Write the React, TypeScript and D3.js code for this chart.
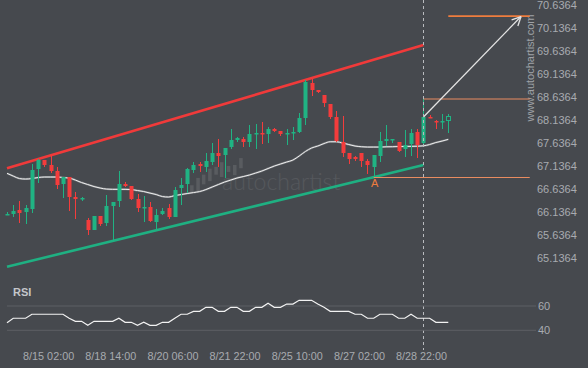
import * as d3 from "d3";

// 4H candles
const opens = [
  66.09, 66.1, 66.18, 66.14, 66.21, 67.07, 67.27, 67.16, 67.03, 66.75,
  66.9, 66.47, 66.43, 65.97, 65.75, 66.05, 65.9, 66.27, 66.38, 66.75,
  66.7, 66.42, 66.24, 66.25, 65.92, 66.1, 66.23, 66.03, 66.66, 66.75,
  67.05, 67.18, 67.12, 67.22, 67.42, 67.38, 67.55, 67.7, 67.72, 67.66,
  67.84, 67.85, 67.83, 67.94, 67.9, 67.84, 67.85, 67.88, 68.18, 68.94,
  68.79, 68.68, 68.48, 68.2, 67.66, 67.42, 67.33, 67.42, 67.25, 67.12,
  67.35, 67.68, 67.71, 67.66, 67.51, 67.62, 67.88, 67.64, 68.21, 68.12,
  68.11, 68.14,
];
const highs = [
  66.14, 66.29, 66.38, 66.29, 67.18, 67.29, 67.27, 67.35, 67.12, 66.9,
  66.9, 66.57, 66.47, 66.01, 66.05, 66.05, 66.51, 66.36, 67.03, 66.79,
  66.7, 66.53, 66.49, 66.36, 66.21, 66.23, 66.31, 66.68, 66.88, 67.09,
  67.22, 67.22, 67.42, 67.64, 67.72, 67.53, 67.94, 67.77, 67.77, 68.03,
  68.05, 68.09, 67.98, 67.96, 67.9, 67.94, 67.98, 68.29, 69.0, 69.02,
  68.79, 68.68, 68.48, 68.33, 68.22, 67.42, 67.35, 67.42, 67.29, 67.38,
  67.88, 68.03, 67.72, 67.66, 67.92, 67.94, 67.94, 68.59, 68.24, 68.14,
  68.27, 68.27,
];
const lows = [
  66.07, 66.03, 65.9, 65.88, 66.12, 66.77, 67.12, 66.99, 66.64, 66.44,
  66.16, 65.99, 66.38, 65.64, 65.75, 65.84, 65.84, 65.51, 66.25, 66.68,
  66.4, 66.14, 65.92, 65.92, 65.77, 66.07, 65.99, 66.03, 66.29, 66.55,
  66.99, 67.01, 67.01, 67.16, 67.12, 66.88, 67.51, 67.66, 67.55, 67.55,
  67.51, 67.62, 67.64, 67.88, 67.79, 67.59, 67.7, 67.85, 68.03, 68.66,
  68.72, 68.42, 68.16, 67.66, 67.33, 67.18, 67.25, 67.12, 66.96, 66.9,
  67.22, 67.57, 67.64, 67.44, 67.33, 67.35, 67.31, 67.57, 68.18, 67.94,
  67.94, 67.85,
];
const closes = [
  66.1, 66.16, 66.12, 66.23, 67.05, 67.27, 67.16, 67.03, 66.73, 66.9,
  66.47, 66.42, 66.44, 65.75, 66.05, 65.88, 66.27, 66.36, 66.75, 66.7,
  66.42, 66.23, 66.25, 65.94, 66.07, 66.16, 66.03, 66.62, 66.73, 67.07,
  67.16, 67.14, 67.25, 67.42, 67.35, 67.53, 67.7, 67.75, 67.66, 67.83,
  67.85, 67.84, 67.94, 67.9, 67.83, 67.85, 67.88, 68.18, 68.96, 68.79,
  68.74, 68.5, 68.2, 67.68, 67.42, 67.29, 67.29, 67.25, 67.16, 67.38,
  67.68, 67.72, 67.72, 67.46, 67.59, 67.85, 67.59, 68.2, 68.2, 68.11,
  68.12, 68.22,
];

// moving average (white line)
const maValues = [
  66.979, 66.92, 66.866, 66.855, 66.866, 66.888, 66.899, 66.899, 66.899, 66.888,
  66.877, 66.833, 66.779, 66.736, 66.692, 66.66, 66.638, 66.632, 66.632, 66.632,
  66.627, 66.606, 66.584, 66.551, 66.519, 66.476, 66.465, 66.497, 66.519, 66.541,
  66.562, 66.584, 66.627, 66.682, 66.736, 66.79, 66.833, 66.877, 66.909, 66.942,
  66.985, 67.029, 67.083, 67.137, 67.181, 67.224, 67.267, 67.354, 67.452, 67.528,
  67.571, 67.625, 67.664, 67.664, 67.636, 67.604, 67.571, 67.556, 67.549, 67.549,
  67.549, 67.554, 67.556, 67.56, 67.562, 67.564, 67.567, 67.575, 67.604, 67.647,
  67.679, 67.716,
];

const rsiValues = [
  46.3, 49.9, 49.9, 49.9, 53.2, 53.2, 53.2, 53.2, 53.2, 53.2,
  49.9, 47.4, 47.4, 44.1, 47.4, 47.4, 47.4, 47.4, 49.9, 46.6,
  46.6, 44.1, 46.6, 44.1, 44.1, 46.6, 46.6, 50.0, 53.2, 53.2,
  55.6, 55.6, 58.9, 58.9, 55.6, 55.6, 58.9, 58.9, 55.6, 55.6,
  58.9, 58.9, 62.2, 58.9, 58.9, 61.6, 61.6, 64.7, 64.7, 64.7,
  61.6, 58.9, 55.6, 55.6, 55.6, 55.6, 53.2, 53.2, 49.9, 49.9,
  53.2, 53.2, 53.2, 49.9, 49.9, 53.2, 49.9, 49.9, 49.9, 46.6,
  46.6, 46.6,
];

const priceTicks = [
  65.1364, 65.6364, 66.1364, 66.6364, 67.1364, 67.6364, 68.1364, 68.6364,
  69.1364, 69.6364, 70.1364, 70.6364,
];
const rsiTicks = [40, 60];
const dateLabels = [
  "8/15 02:00", "8/18 14:00", "8/20 06:00", "8/21 22:00",
  "8/25 10:00", "8/27 02:00", "8/28 22:00",
];
const dateBars = [6.7, 16.7, 26.7, 36.7, 46.7, 56.7, 66.7];

// channel pattern: [bar, price]
const upperLine: [number, number][] = [[0, 67.087], [67, 69.762]];
const lowerLine: [number, number][] = [[0, 64.953], [67, 67.159]];
const patternEnd = 67;
const pointA = 59;
const resistance = 68.59;
const support = 66.89;
const target = 70.39;
const levelEnd = 84.1;
const arrowFrom: [number, number] = [67, 68.2];
const arrowTo: [number, number] = [82.7, 70.38];

// faint logo bars behind the watermark: [bar, top, bottom]
const logoBars: [number, number, number][] = [
  [29.7, 66.72, 66.57], [30.7, 66.88, 66.59], [31.6, 66.95, 66.74],
  [32.6, 67.08, 66.81], [33.6, 67.12, 66.95], [34.5, 67.22, 66.9],
  [35.6, 67.14, 67.01], [36.6, 67.16, 66.94], [37.6, 67.31, 67.09],
];

const W = 588;
const H = 368;
const BG = "#46494e";
const UP = "#20b383";
const DOWN = "#f43c3c";
const ORANGE = "#ef7d3e";
const TXT = "#a8abb0";
const FONT = "Liberation Sans, Arial, sans-serif";

export default function App() {
  const x = d3.scaleLinear().domain([0, 71]).range([7, 448.3]);
  const y = d3.scaleLinear().domain([65.1364, 70.6364]).range([258.3, 4.7]);
  const yr = d3.scaleLinear().domain([40, 60]).range([330.3, 306]);

  const maLine = d3
    .line<number>()
    .x((_, i) => x(i))
    .y((d) => y(d))
    .curve(d3.curveMonotoneX);
  const rsiLine = d3
    .line<number>()
    .x((_, i) => x(i))
    .y((d) => yr(d));

  const ax = x(arrowFrom[0]);
  const ay = y(arrowFrom[1]);
  const bx = x(arrowTo[0]);
  const by = y(arrowTo[1]);
  const ang = Math.atan2(by - ay, bx - ax);
  const head = (a: number) =>
    `M${bx - 10 * Math.cos(ang + a)},${by - 10 * Math.sin(ang + a)}L${bx},${by}`;

  const dashX = Math.round(x(patternEnd)) + 0.5;

  return (
    <svg
      width={W}
      height={H}
      style={{ position: "absolute", left: 0, top: 0, display: "block" }}
    >
      <rect width={W} height={H} fill={BG} />

      {/* watermark */}
      <g fill="#ffffff" opacity={0.1}>
        {logoBars.map(([b, t, bt], i) => (
          <rect key={i} x={x(b) - 1.5} y={y(t)} width={3.5} height={y(bt) - y(t)} />
        ))}
      </g>
      <text
        x={222}
        y={190}
        fontFamily="Lato, Liberation Sans, sans-serif"
        fontWeight={300}
        fontSize={23}
        fill="#ffffff"
        opacity={0.08}
      >
        autochartist
      </text>
      <text
        transform="translate(534,68) rotate(-90)"
        textAnchor="middle"
        fontFamily={FONT}
        fontSize={11}
        fill="#9fa2a7"
      >
        www.autochartist.com
      </text>

      {/* channel */}
      <line
        x1={x(upperLine[0][0])}
        y1={y(upperLine[0][1])}
        x2={x(upperLine[1][0])}
        y2={y(upperLine[1][1])}
        stroke="#f03a3a"
        strokeWidth={2.6}
      />
      <line
        x1={x(lowerLine[0][0])}
        y1={y(lowerLine[0][1])}
        x2={x(lowerLine[1][0])}
        y2={y(lowerLine[1][1])}
        stroke="#1fb082"
        strokeWidth={2.6}
      />

      {/* moving average */}
      <path d={maLine(maValues) ?? ""} fill="none" stroke="#75787c" strokeWidth={2} />
      <path d={maLine(maValues) ?? ""} fill="none" stroke="#eeeeee" strokeWidth={1} />

      {/* candles */}
      {opens.map((o, i) => {
        const c = closes[i];
        const up = c >= o;
        const col = up ? UP : DOWN;
        const cx = Math.round(x(i));
        const top = Math.round(y(Math.max(o, c)));
        const bot = Math.round(y(Math.min(o, c)));
        const last = i === opens.length - 1;
        return (
          <g key={i}>
            <line
              x1={cx + 0.5}
              x2={cx + 0.5}
              y1={Math.round(y(highs[i]))}
              y2={Math.round(y(lows[i]))}
              stroke={col}
              strokeWidth={1}
            />
            {last ? (
              <rect
                x={cx - 1.5}
                y={top + 0.5}
                width={4}
                height={Math.max(bot - top, 2)}
                fill={BG}
                stroke={col}
                strokeWidth={1}
              />
            ) : (
              <rect
                x={cx - 1.5}
                y={top}
                width={4}
                height={Math.max(bot - top, 1.5)}
                fill={col}
              />
            )}
          </g>
        );
      })}

      {/* levels */}
      <line
        x1={x(patternEnd)}
        x2={x(levelEnd)}
        y1={y(resistance)}
        y2={y(resistance)}
        stroke="#e98c60"
        strokeWidth={1.1}
      />
      <line
        x1={x(pointA)}
        x2={x(levelEnd)}
        y1={y(support)}
        y2={y(support)}
        stroke="#e98c60"
        strokeWidth={1.1}
      />
      <line
        x1={x(71)}
        x2={x(levelEnd)}
        y1={y(target)}
        y2={y(target)}
        stroke={ORANGE}
        strokeWidth={1.8}
      />
      <text
        x={x(pointA) + 1}
        y={y(lows[pointA]) + 10}
        textAnchor="middle"
        fontFamily={FONT}
        fontSize={11}
        fill={ORANGE}
      >
        A
      </text>

      {/* projection arrow */}
      <g stroke="#e4e4e4" strokeWidth={1.3} fill="none">
        <line x1={ax} y1={ay} x2={bx} y2={by} />
        <path d={head(0.45)} />
        <path d={head(-0.45)} />
      </g>

      {/* dashed marker */}
      <line
        x1={dashX}
        x2={dashX}
        y1={0}
        y2={350}
        stroke="#b9bbbf"
        strokeWidth={1}
        strokeDasharray="3,3"
      />

      {/* price axis */}
      {priceTicks.map((t) => (
        <text
          key={t}
          x={537}
          y={y(t)}
          dy="0.35em"
          fontFamily={FONT}
          fontSize={11}
          fill={TXT}
        >
          {t.toFixed(4)}
        </text>
      ))}

      {/* RSI panel */}
      <text
        x={13}
        y={292}
        dy="0.35em"
        fontFamily={FONT}
        fontSize={11}
        fontWeight="bold"
        fill="#c4c6ca"
      >
        RSI
      </text>
      {rsiTicks.map((t) => (
        <g key={t}>
          <line x1={7} x2={536} y1={yr(t)} y2={yr(t)} stroke="#5d6065" strokeWidth={1} />
          <text
            x={538}
            y={yr(t)}
            dy="0.35em"
            fontFamily={FONT}
            fontSize={11}
            fill={TXT}
          >
            {t}
          </text>
        </g>
      ))}
      <path d={rsiLine(rsiValues) ?? ""} fill="none" stroke="#f2f2f2" strokeWidth={1.2} />

      {/* time axis */}
      {dateLabels.map((l, i) => (
        <text
          key={l}
          x={x(dateBars[i])}
          y={356}
          dy="0.35em"
          textAnchor="middle"
          fontFamily={FONT}
          fontSize={10.8}
          fill={TXT}
        >
          {l}
        </text>
      ))}
    </svg>
  );
}
